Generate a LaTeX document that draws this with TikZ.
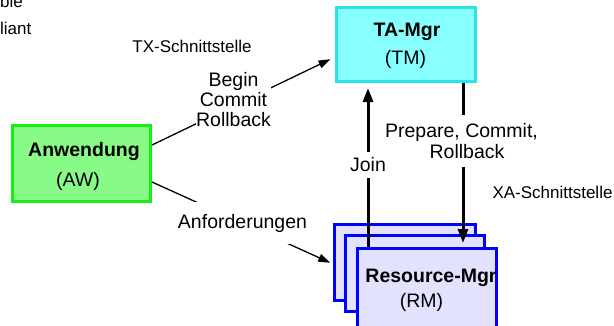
\documentclass[tikz,border=0pt]{standalone}
\usepackage{fontspec}
\setmainfont{Liberation Sans}
\usetikzlibrary{arrows.meta}

\definecolor{tmfill}{RGB}{136,255,255}
\definecolor{tmline}{RGB}{40,228,228}
\definecolor{awfill}{RGB}{136,250,136}
\definecolor{awline}{RGB}{20,240,20}
\definecolor{rmfill}{RGB}{226,226,255}
\definecolor{rmline}{RGB}{0,0,255}

\begin{document}
\begin{tikzpicture}[x=1pt,y=-1pt,
  box/.style={draw, line width=3pt, inner sep=0pt},
  tmbox/.style={box, draw=tmline, fill=tmfill},
  awbox/.style={box, draw=awline, fill=awfill},
  rmbox/.style={box, draw=rmline, fill=rmfill},
  bigtext/.style={font=\fontsize{19.5}{21}\selectfont, inner sep=0pt, anchor=base},
  boldtext/.style={bigtext, font=\fontsize{19.5}{21}\selectfont\bfseries},
  smalltext/.style={font=\fontsize{17}{20}\selectfont, inner sep=0pt, anchor=base},
  edgelabel/.style={fill=white, align=center, inner xsep=0pt,
                    font=\fontsize{19.5}{20}\selectfont},
  thinarrow/.style={line width=1.3pt, -{Triangle[length=12pt,width=8pt]}},
  thickarrow/.style={line width=3pt, -{Triangle[length=14pt,width=10pt]}}
]
\clip (0,0) rectangle (614,325);
\fill[white] (0,0) rectangle (614,325);

% fragments of text at the upper left edge
\node[smalltext, anchor=base west] (frag1) at (0,7.5) {ble};
\node[smalltext, anchor=base west] (frag2) at (0,34.3) {liant};

% transaction manager
\node[tmbox, minimum width=139pt, minimum height=74pt] (tm) at (406,44.5) {};
\node[boldtext] (tmtitle) at (407,36) {TA-Mgr};
\node[bigtext] (tmsub) at (405.5,64) {(TM)};

% application
\node[awbox, minimum width=138pt, minimum height=76pt] (aw) at (81.5,163.5) {};
\node[boldtext] (awtitle) at (84,156) {Anwendung};
\node[bigtext] (awsub) at (78,186) {(AW)};

% stacked resource managers
\node[rmbox, minimum width=141pt, minimum height=76pt] (rm1) at (405,262.5) {};
\node[rmbox, minimum width=139pt, minimum height=76pt] (rm2) at (415,273.5) {};
\node[rmbox, minimum width=139pt, minimum height=80pt] (rm3) at (427,288.5) {};
\node[boldtext] (rmtitle) at (431,282) {Resource-Mgr};
\node[bigtext] (rmsub) at (421.5,307) {(RM)};

% interface names
\node[smalltext] (tx) at (192,52) {TX-Schnittstelle};
\node[smalltext] (xa) at (552.5,198) {XA-Schnittstelle};

% application -> transaction manager
\draw[thinarrow, shorten >=5pt]
  ([yshift=18.5pt]aw.east) -- node[edgelabel, pos=0.5, xshift=-10pt, yshift=1.5pt] (txlbl)
  {Begin\\Commit\\Rollback} ([yshift=-12.5pt]tm.west);

% application -> resource managers
\draw[thinarrow, shorten >=3pt]
  ([yshift=-18.5pt]aw.east) -- node[edgelabel, pos=0.5, inner xsep=2pt, inner ysep=12pt] (reqlbl)
  {Anforderungen} ([yshift=-1.5pt]rm1.west);

% resource manager joins the transaction
\draw[thickarrow, shorten >=5pt]
  ([xshift=-59pt]rm3.north) -- node[edgelabel, pos=0.5, inner xsep=2pt, inner ysep=5.5pt] (joinlbl)
  {Join} ([xshift=-38pt]tm.south);

% two-phase commit calls
\draw[thickarrow, shorten >=4pt]
  ([xshift=57pt]tm.south) -- node[edgelabel, pos=0.354, xshift=-1.5pt, inner ysep=8pt,
  font=\fontsize{19.5}{21}\selectfont] (xalbl)
  {Prepare, Commit,\\\hspace*{11pt}Rollback} ([xshift=36pt]rm3.north);
\end{tikzpicture}
\end{document}
